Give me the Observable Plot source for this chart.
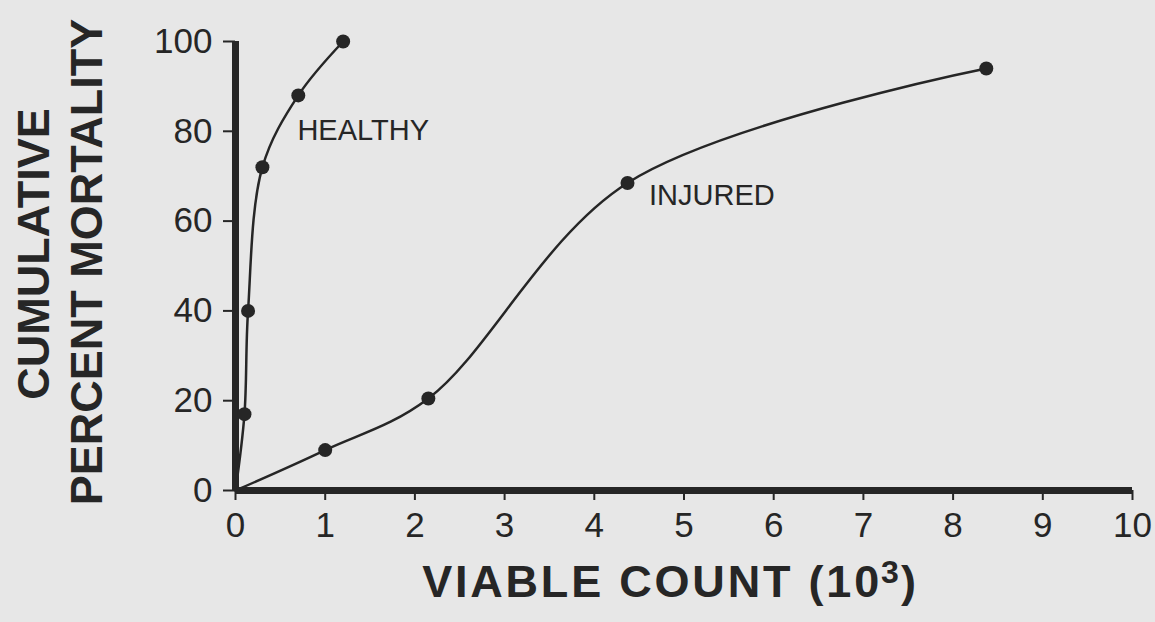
<!DOCTYPE html>
<html>
<head>
<meta charset="utf-8">
<script src="https://cdn.jsdelivr.net/npm/d3@7"></script>
<script src="https://cdn.jsdelivr.net/npm/@observablehq/plot@0.6"></script>
<style>
  html, body { margin: 0; padding: 0; background: #e7e7e7; overflow: hidden; }
  g[aria-label^="x-axis"] line, g[aria-label^="x-axis"] path,
  g[aria-label^="y-axis"] line, g[aria-label^="y-axis"] path { stroke-width: 2px; }
</style>
</head>
<body>
<div id="chart"></div>
<script>
// Series values (x in thousands of viable count, y in cumulative percent mortality)
const healthyX = [0, 0.10, 0.14, 0.30, 0.70, 1.20];
const healthyY = [0, 17, 40, 72, 88, 100];
const injuredX = [0, 1.00, 2.15, 4.37, 8.37];
const injuredY = [0, 9, 20.5, 68.5, 94];

// Tick labels
const xTicks = [0, 1, 2, 3, 4, 5, 6, 7, 8, 9, 10];
const yTicks = [0, 20, 40, 60, 80, 100];

// Series labels
const seriesNames = ["HEALTHY", "INJURED"];
const labelX = [0.69, 4.61];
const labelY = [80.2, 65.7];

const healthy = healthyX.map((x, i) => ({x, y: healthyY[i]}));
const injured = injuredX.map((x, i) => ({x, y: injuredY[i]}));
const labels = seriesNames.map((text, i) => ({text, x: labelX[i], y: labelY[i]}));

const ink = "#262626";

const chart = Plot.plot({
  width: 1155,
  height: 622,
  marginLeft: 235,
  marginRight: 23,
  marginTop: 41,
  marginBottom: 132,
  style: {background: "#e7e7e7", color: ink, fontFamily: "'Liberation Sans', Arial, sans-serif", fontSize: "35px"},
  x: {domain: [0, 10], ticks: xTicks, tickSize: 10, tickPadding: 12, label: null, tickFormat: d => String(d)},
  y: {domain: [0, 100], ticks: yTicks, tickSize: 12, tickPadding: 11, label: null, tickFormat: d => String(d)},
  marks: [
    Plot.ruleY([0], {stroke: ink, strokeWidth: 7}),
    Plot.ruleX([0], {stroke: ink, strokeWidth: 7}),
    Plot.line(healthy, {x: "x", y: "y", curve: "catmull-rom", stroke: ink, strokeWidth: 2.5}),
    Plot.line(injured, {x: "x", y: "y", curve: "catmull-rom", stroke: ink, strokeWidth: 2.5}),
    Plot.dot(healthy.filter(d => d.x > 0), {x: "x", y: "y", r: 7, fill: ink, stroke: "none"}),
    Plot.dot(injured.filter(d => d.x > 0), {x: "x", y: "y", r: 7, fill: ink, stroke: "none"}),
    Plot.text(labels, {x: "x", y: "y", text: "text", textAnchor: "start", fontSize: 29, fill: ink}),
    Plot.text(["CUMULATIVE"], {frameAnchor: "left", textAnchor: "middle", rotate: -90, dx: -201, dy: -12, fontSize: 45, fontWeight: "bold", fill: ink}),
    Plot.text(["PERCENT MORTALITY"], {frameAnchor: "left", textAnchor: "middle", rotate: -90, dx: -148, dy: -4, fontSize: 45, fontWeight: "bold", fill: ink}),
    Plot.text(["VIABLE COUNT (10"], {frameAnchor: "bottom", textAnchor: "end", dx: 198, dy: 106, fontSize: 45, fontWeight: "bold", fill: ink}),
    Plot.text(["3"], {frameAnchor: "bottom", textAnchor: "start", dx: 197, dy: 92, fontSize: 32, fontWeight: "bold", fill: ink}),
    Plot.text([")"], {frameAnchor: "bottom", textAnchor: "start", dx: 217, dy: 106, fontSize: 45, fontWeight: "bold", fill: ink})
  ]
});
d3.select(chart).selectAll("text").filter(function() { return this.textContent === "VIABLE COUNT (10"; })
  .style("letter-spacing", "2.8px");
document.getElementById("chart").appendChild(chart);
</script>
</body>
</html>
